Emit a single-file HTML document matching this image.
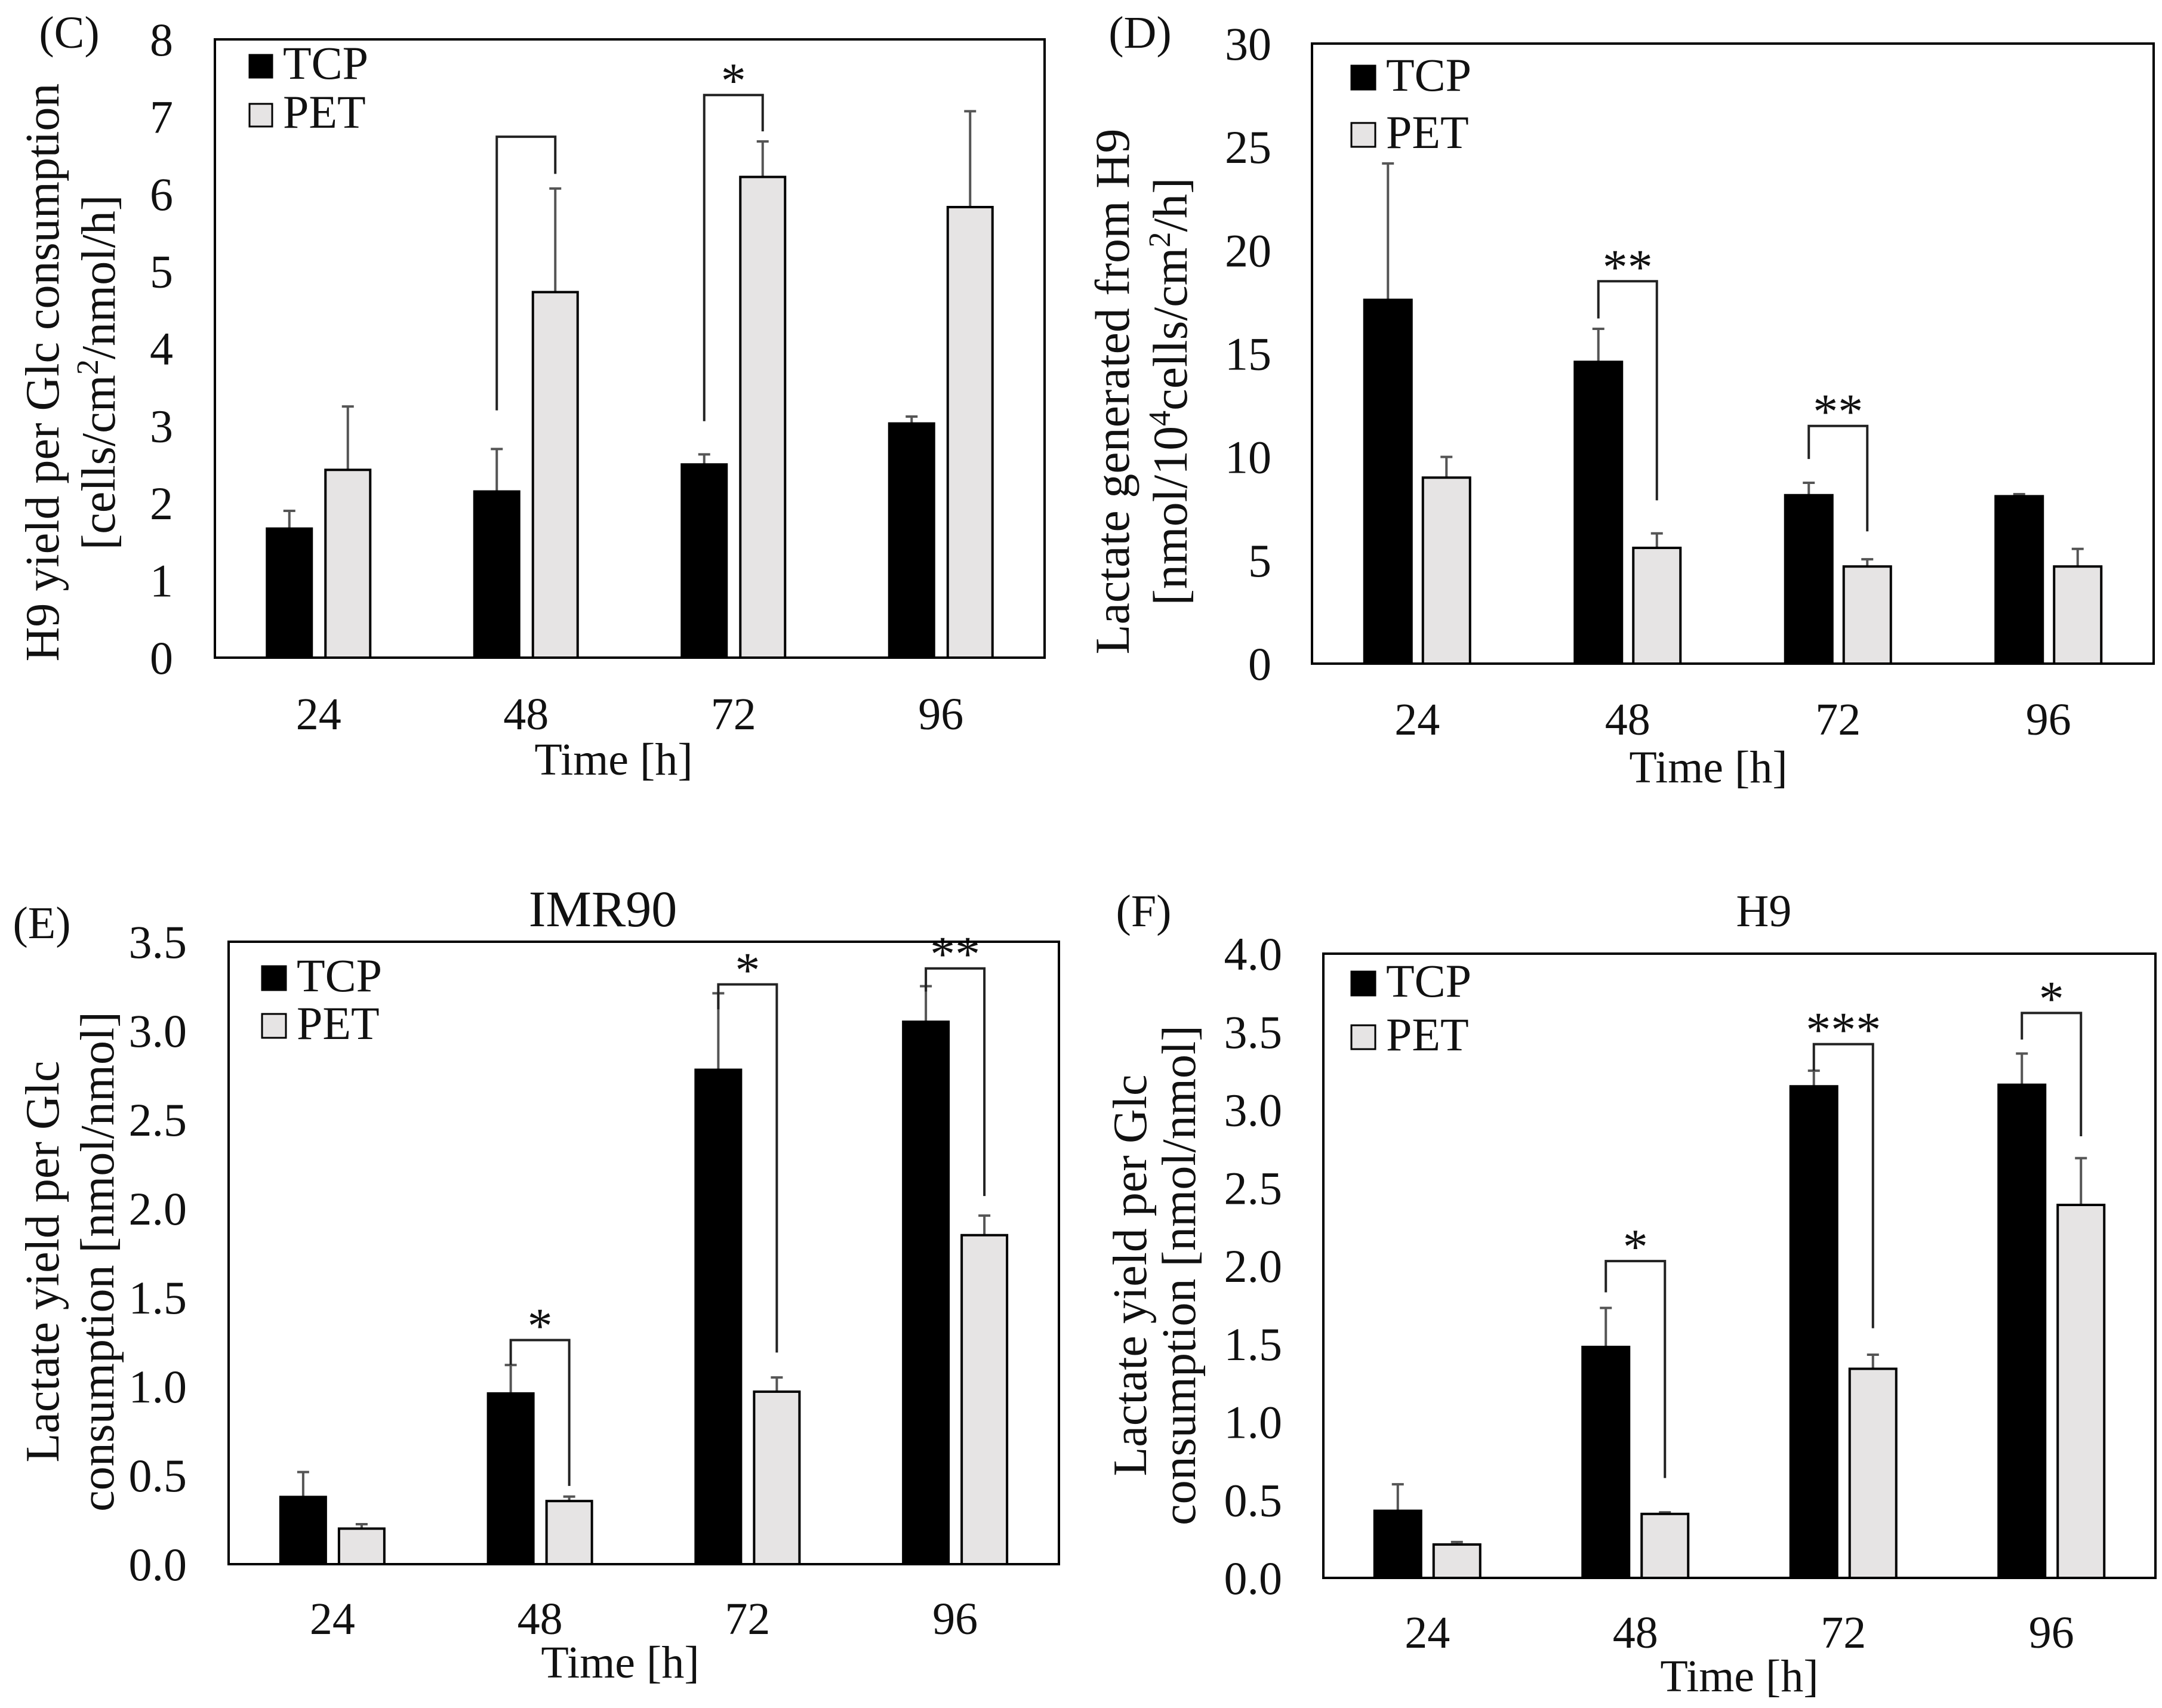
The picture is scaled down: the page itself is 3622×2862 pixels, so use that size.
<!DOCTYPE html>
<html><head><meta charset="utf-8"><style>
html,body{margin:0;padding:0;background:#fff;}
svg{display:block;}
text{font-family:"Liberation Serif",serif;fill:#111;}
</style></head><body>
<svg id="fig" width="3622" height="2862" viewBox="0 0 3622 2862" xmlns="http://www.w3.org/2000/svg">
<rect width="3622" height="2862" fill="#fff"/>
<text x="116" y="80" font-size="76" text-anchor="middle">(C)</text>
<text x="1910" y="80" font-size="76" text-anchor="middle">(D)</text>
<text x="70" y="1572" font-size="76" text-anchor="middle">(E)</text>
<text x="1916" y="1552" font-size="76" text-anchor="middle">(F)</text>
<text x="1010" y="1552" font-size="86" text-anchor="middle">IMR90</text>
<text x="2955" y="1552" font-size="76" text-anchor="middle">H9</text>

<text font-size="80" text-anchor="middle" transform="translate(98,624) rotate(-90)">H9 yield per Glc consumption</text>
<text font-size="80" text-anchor="middle" transform="translate(192,624) rotate(-90)">[cells/cm<tspan dy="-28" font-size="52">2</tspan><tspan dy="28">/nmol/h]</tspan></text>
<text font-size="82" text-anchor="middle" transform="translate(1891,656) rotate(-90)">Lactate generated  from H9</text>
<text font-size="82" text-anchor="middle" transform="translate(1988,656) rotate(-90)">[nmol/10<tspan dy="-28" font-size="52">4</tspan><tspan dy="28">cells/cm</tspan><tspan dy="-28" font-size="52">2</tspan><tspan dy="28">/h]</tspan></text>
<text font-size="80" text-anchor="middle" transform="translate(98,2114) rotate(-90)">Lactate yield per Glc</text>
<text font-size="80" text-anchor="middle" transform="translate(190,2114) rotate(-90)">consumption  [nmol/nmol]</text>
<text font-size="80" text-anchor="middle" transform="translate(1920,2137) rotate(-90)">Lactate yield per Glc</text>
<text font-size="80" text-anchor="middle" transform="translate(2002,2137) rotate(-90)">consumption  [nmol/nmol]</text>
<g id="charts"></g>
</svg>
<script>
const categories = ["24","48","72","96"];
// Panel C
const cTcp = [1.67, 2.15, 2.5, 3.03];
const cTcpErr = [0.23, 0.55, 0.13, 0.09];
const cPet = [2.43, 4.73, 6.22, 5.83];
const cPetErr = [0.82, 1.34, 0.46, 1.24];
const cTicks = ["0","1","2","3","4","5","6","7","8"];
const cBrackets = [[1, 3.2, 6.74, 6.26, ""], [2, 3.06, 7.28, 6.81, "*"]];
// Panel D
const dTcp = [17.6, 14.6, 8.15, 8.1];
const dTcpErr = [6.6, 1.6, 0.6, 0.1];
const dPet = [9.0, 5.6, 4.7, 4.7];
const dPetErr = [1.0, 0.7, 0.35, 0.85];
const dTicks = ["0","5","10","15","20","25","30"];
const dBrackets = [[1, 16.7, 18.5, 7.9, "**"], [2, 9.9, 11.5, 6.4, "**"]];
// Panel E
const eTcp = [0.378, 0.96, 2.78, 3.05];
const eTcpErr = [0.14, 0.16, 0.43, 0.2];
const ePet = [0.2, 0.355, 0.97, 1.85];
const ePetErr = [0.025, 0.025, 0.08, 0.11];
const eTicks = ["0.0","0.5","1.0","1.5","2.0","2.5","3.0","3.5"];
const eBrackets = [[1, 1.12, 1.26, 0.44, "*"], [2, 3.12, 3.26, 1.19, "*"], [3, 3.22, 3.35, 2.07, "**"]];
// Panel F
const fTcp = [0.43, 1.48, 3.15, 3.16];
const fTcpErr = [0.17, 0.25, 0.1, 0.2];
const fPet = [0.214, 0.41, 1.34, 2.39];
const fPetErr = [0.016, 0.01, 0.09, 0.3];
const fTicks = ["0.0","0.5","1.0","1.5","2.0","2.5","3.0","3.5","4.0"];
const fBrackets = [[1, 1.83, 2.03, 0.64, "*"], [2, 3.25, 3.42, 1.6, "***"], [3, 3.45, 3.62, 2.83, "*"]];

const panels = [
 {id:"c", x0:360, x1:1750, y0:66, y1:1102, max:8, ticks:cTicks, tcp:cTcp, tcpE:cTcpErr, pet:cPet, petE:cPetErr, br:cBrackets, bw:75, gap:23,
  tickR:290, xtY:1222, titleY:1298, titleX:1028, legX:418, legY:[92,174], legS:38},
 {id:"d", x0:2198, x1:3608, y0:73, y1:1112, max:30, ticks:dTicks, tcp:dTcp, tcpE:dTcpErr, pet:dPet, petE:dPetErr, br:dBrackets, bw:79, gap:19,
  tickR:2130, xtY:1231, titleY:1311, titleX:2862, legX:2264, legY:[110,206], legS:40},
 {id:"e", x0:383, x1:1774, y0:1578, y1:2621, max:3.5, ticks:eTicks, tcp:eTcp, tcpE:eTcpErr, pet:ePet, petE:ePetErr, br:eBrackets, bw:76, gap:22,
  tickR:313, xtY:2738, titleY:2811, titleX:1039, legX:439, legY:[1619,1699], legS:40},
 {id:"f", x0:2217, x1:3611, y0:1598, y1:2644, max:4, ticks:fTicks, tcp:fTcp, tcpE:fTcpErr, pet:fPet, petE:fPetErr, br:fBrackets, bw:78, gap:21,
  tickR:2148, xtY:2761, titleY:2834, titleX:2914, legX:2264, legY:[1628,1718], legS:40}
];
const NS = "http://www.w3.org/2000/svg";
const root = document.getElementById("charts");
function mk(tag, attrs, parent){const e=document.createElementNS(NS,tag);for(const k in attrs)e.setAttribute(k,attrs[k]);(parent||root).appendChild(e);return e;}

panels.forEach(p=>{
  const g = mk("g",{});
  
  
  const yS = v => p.y1 - v/p.max*(p.y1-p.y0);
  const band = (p.x1-p.x0)/categories.length;
  const xC = i => p.x0 + band*(i+0.5);
  p.ticks.forEach(t=>{
    const tx = mk("text",{x:p.tickR, y:yS(parseFloat(t))+27, "font-size":78, "text-anchor":"end"}, g);
    tx.textContent = t;
    
    
  });
  categories.forEach((c,i)=>{
    const tx = mk("text",{x:xC(i), y:p.xtY, "font-size":76, "text-anchor":"middle"}, g);
    tx.textContent = c;
    
    
  });
  const tt = mk("text",{x:p.titleX, y:p.titleY, "font-size":76, "text-anchor":"middle"}, g);
  tt.textContent = "Time [h]";
  
  
  categories.forEach((c,i)=>{
    const cx = xC(i);
    const tx = cx - p.gap/2 - p.bw, px = cx + p.gap/2;
    [[tx,p.tcp[i],p.tcpE[i],"#000","tcp"],[px,p.pet[i],p.petE[i],"#e6e4e4","pet"]].forEach(([bx,v,e,fill,nm])=>{
      const ex = bx + p.bw/2;
      const el = mk("line",{x1:ex,x2:ex,y1:yS(v),y2:yS(v+e),stroke:"#555","stroke-width":4}, g);
      
      
      const cap = mk("line",{x1:ex-10,x2:ex+10,y1:yS(v+e),y2:yS(v+e),stroke:"#555","stroke-width":4}, g);
      
      
      const r = mk("rect",{x:bx,y:yS(v),width:p.bw,height:yS(0)-yS(v),fill:fill,stroke:"#000","stroke-width":4}, g);
      
      
    });
  });
  p.br.forEach(([ci,lb,top,rb,lab])=>{
    const cx = xC(ci);
    const lx = cx - p.gap/2 - p.bw/2, rx = cx + p.gap/2 + p.bw/2;
    const pl = mk("polyline",{points:`${lx},${yS(lb)} ${lx},${yS(top)} ${rx},${yS(top)} ${rx},${yS(rb)}`,fill:"none",stroke:"#222","stroke-width":4}, g);
    
    
    if(lab){
      const st = mk("text",{x:(lx+rx)/2, y:yS(top)+4, "font-size":84, "text-anchor":"middle"}, g);
      st.textContent = lab;
      
      
    }
  });
  const fr = mk("rect",{x:p.x0,y:p.y0,width:p.x1-p.x0,height:p.y1-p.y0,fill:"none",stroke:"#000","stroke-width":4}, g);
  
  
  [["TCP","#000"],["PET","#e6e4e4"]].forEach(([nm,fill],k)=>{
    const sq = mk("rect",{x:p.legX,y:p.legY[k],width:p.legS,height:p.legS,fill:fill,stroke:"#000","stroke-width":3}, g);
    
    
    const lt = mk("text",{x:p.legX+p.legS+18, y:p.legY[k]+p.legS+2, "font-size":78}, g);
    lt.textContent = nm;
    
    
  });
});
</script>
</body></html>
